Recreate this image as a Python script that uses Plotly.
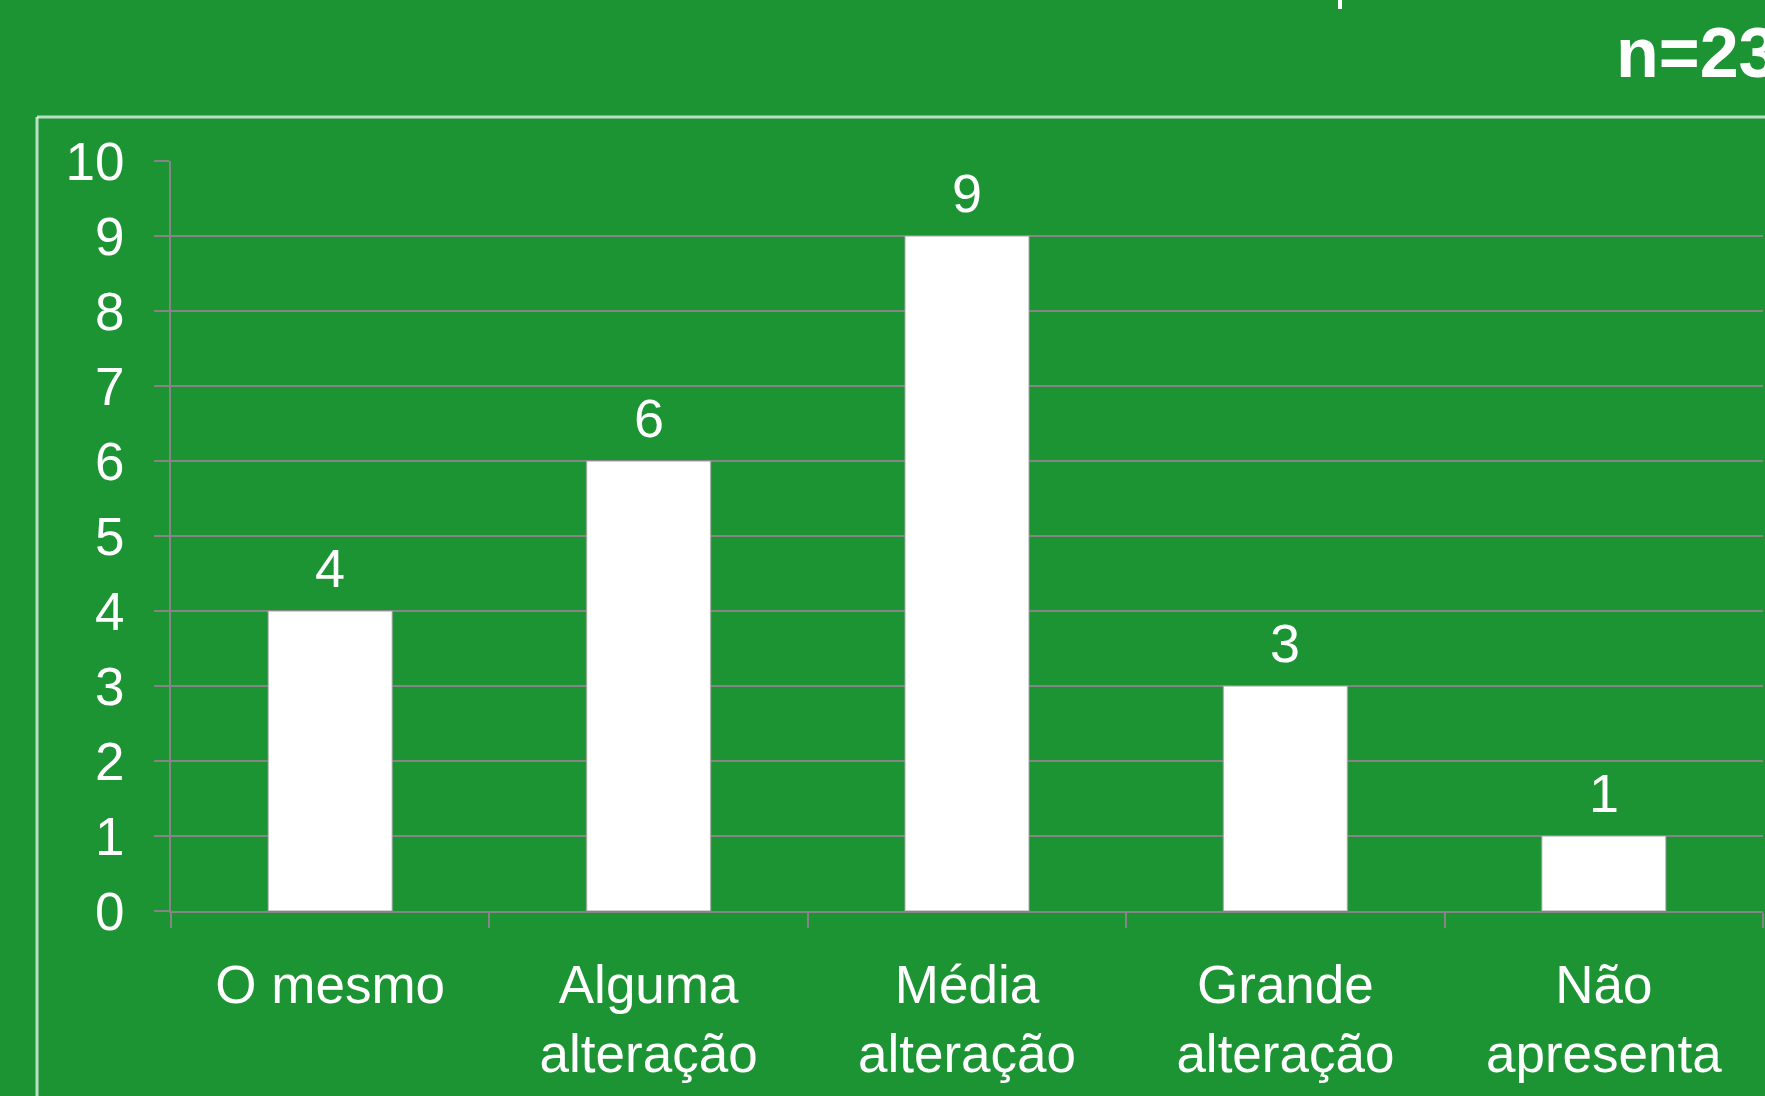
import plotly.graph_objects as go

categories = ["O mesmo", "Alguma<br>alteração", "Média<br>alteração", "Grande<br>alteração", "Não<br>apresenta"]
values = [4, 6, 9, 3, 1]
y_ticks = [0, 1, 2, 3, 4, 5, 6, 7, 8, 9, 10]
note_text = "n=23"

W, H = 1765, 1096
L, R, T, B = 171, 2, 161, 185
PW = W - L - R
PH = H - T - B

BG = "#1d9434"
GRID = "#858585"
FONT = "Liberation Sans, Arial, sans-serif"

def px_x(x):
    return (x - L) / PW

def px_y(y):
    return (H - B - y) / PH

fig = go.Figure()
fig.add_trace(go.Bar(
    x=categories,
    y=values,
    width=0.39,
    marker=dict(color="#ffffff", line=dict(color="rgba(150,150,150,0.6)", width=1.5)),
    hoverinfo="skip",
))

value_labels = [dict(
    x=c, y=v, xref="x", yref="y",
    text=str(v), showarrow=False,
    xanchor="center", yanchor="middle", yshift=43,
    font=dict(family=FONT, size=54, color="#ffffff"),
) for c, v in zip(categories, values)]

fig.update_layout(
    width=W, height=H,
    margin=dict(l=L, r=R, t=T, b=B),
    paper_bgcolor=BG,
    plot_bgcolor=BG,
    showlegend=False,
    font=dict(family=FONT, color="#ffffff"),
    xaxis=dict(
        type="category",
        range=[-0.5, len(categories) - 0.5],
        showgrid=False,
        showline=True, linecolor=GRID, linewidth=2,
        ticks="outside", ticklen=15, tickcolor=GRID, tickwidth=2,
        tickson="boundaries",
        tickfont=dict(family=FONT, size=53, color="#ffffff"),
        ticklabelstandoff=26,
    ),
    yaxis=dict(
        range=[0, 10],
        tickvals=y_ticks,
        showgrid=True, gridcolor=GRID, gridwidth=2,
        showline=True, linecolor=GRID, linewidth=2,
        zeroline=False,
        ticks="outside", ticklen=15, tickcolor=GRID, tickwidth=2,
        tickfont=dict(family=FONT, size=53, color="#ffffff"),
        ticklabelstandoff=19,
    ),
    annotations=value_labels + [dict(
        text="<b>" + note_text + "</b>",
        xref="paper", yref="paper",
        x=px_x(1614), y=px_y(53),
        xanchor="left", yanchor="middle",
        showarrow=False,
        font=dict(family=FONT, size=70, color="#ffffff"),
    )],
    shapes=[
        dict(type="line", xref="paper", yref="paper",
             x0=px_x(37), x1=px_x(W + 20), y0=px_y(117), y1=px_y(117),
             line=dict(color="rgba(255,255,255,0.7)", width=3)),
        dict(type="line", xref="paper", yref="paper",
             x0=px_x(37), x1=px_x(37), y0=px_y(117), y1=px_y(H + 20),
             line=dict(color="rgba(255,255,255,0.7)", width=3)),
        dict(type="line", xref="paper", yref="paper",
             x0=px_x(1340), x1=px_x(1340), y0=px_y(-5), y1=px_y(9),
             line=dict(color="#ffffff", width=4)),
    ],
)

fig.write_html(
    "out.html",
    config={"displayModeBar": False},
    post_script="document.body.style.margin='0';document.body.style.overflow='hidden';",
)
